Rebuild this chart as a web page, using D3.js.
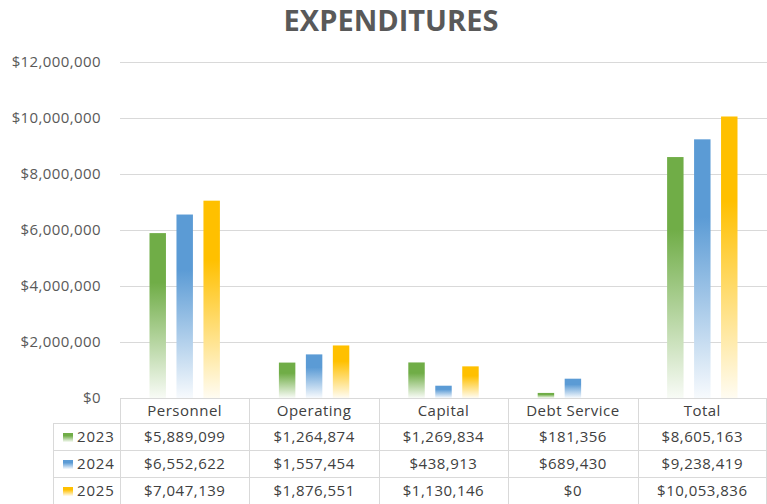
<!DOCTYPE html>
<html>
<head>
<meta charset="utf-8">
<script src="https://cdn.jsdelivr.net/npm/d3@7"></script>
<style>
  body { margin: 0; background: #fff; }
  text { font-family: "Open Sans", sans-serif; }
</style>
</head>
<body>
<div id="chart"></div>
<script>
var categories = ["Personnel", "Operating", "Capital", "Debt Service", "Total"];
var years = ["2023", "2024", "2025"];
var values2023 = [5889099, 1264874, 1269834, 181356, 8605163];
var values2024 = [6552622, 1557454, 438913, 689430, 9238419];
var values2025 = [7047139, 1876551, 1130146, 0, 10053836];
var yTicks = [0, 2000000, 4000000, 6000000, 8000000, 10000000, 12000000];
var colors = ["#70ad47", "#5b9bd5", "#ffc000"];

var series = [values2023, values2024, values2025];

var width = 767, height = 504;
var plotLeft = 120, plotRight = 767, plotTop = 62, plotBottom = 398;
var rowH = 27, headH = 25, legendLeft = 53;

var svg = d3.select("#chart").append("svg")
  .attr("width", width)
  .attr("height", height);

// gradients, one per year, fading to white at the bottom of each bar
var defs = svg.append("defs");
years.forEach(function (yr, i) {
  var g = defs.append("linearGradient")
    .attr("id", "grad" + i)
    .attr("x1", 0).attr("y1", 0).attr("x2", 0).attr("y2", 1);
  g.append("stop").attr("offset", 0).attr("stop-color", colors[i]);
  g.append("stop").attr("offset", 0.3).attr("stop-color", colors[i]);
  g.append("stop").attr("offset", 1).attr("stop-color", d3.interpolateRgb(colors[i], "#fff")(0.95));
});

var x0 = d3.scaleBand().domain(categories).range([plotLeft, plotRight]).padding(0);
var x1 = d3.scaleBand().domain(years)
  .range([29.5, x0.bandwidth() - 29.5])
  .paddingInner(0.39).paddingOuter(0);
var y = d3.scaleLinear().domain([0, 12000000]).range([plotBottom, plotTop]);

svg.append("text")
  .attr("x", 391).attr("y", 31)
  .attr("text-anchor", "middle")
  .attr("font-size", 29).attr("font-weight", "bold")
  .attr("fill", "#595959")
  .text("EXPENDITURES");

// grid + y labels
svg.append("g").selectAll("line")
  .data(yTicks.filter(d => d > 0))
  .enter().append("line")
  .attr("x1", plotLeft).attr("x2", plotRight)
  .attr("y1", d => y(d) + 0.5).attr("y2", d => y(d) + 0.5)
  .attr("stroke", "#d9d9d9").attr("stroke-width", 1);

var fmt = d3.format("$,");
svg.append("g").selectAll("text")
  .data(yTicks)
  .enter().append("text")
  .attr("x", 101).attr("y", d => y(d) + 5)
  .attr("text-anchor", "end")
  .attr("font-size", 15).attr("letter-spacing", 0.4)
  .attr("fill", "#595959")
  .text(d => fmt(d));

// bars
var groups = svg.append("g").selectAll("g")
  .data(categories)
  .enter().append("g")
  .attr("transform", d => "translate(" + x0(d) + ",0)");

groups.selectAll("rect")
  .data((c, ci) => years.map((yr, si) => ({ year: yr, si: si, value: series[si][ci] })))
  .enter().append("rect")
  .attr("x", d => x1(d.year))
  .attr("width", x1.bandwidth())
  .attr("y", d => y(d.value))
  .attr("height", d => plotBottom - y(d.value))
  .attr("fill", d => "url(#grad" + d.si + ")");

// data table
var tbl = svg.append("g");
var lineColor = "#d9d9d9";
var tableBottom = plotBottom + headH + rowH * 3;

tbl.append("line").attr("x1", plotLeft).attr("x2", plotRight)
  .attr("y1", plotBottom + 0.5).attr("y2", plotBottom + 0.5)
  .attr("stroke", lineColor);
[0, 1, 2, 3].forEach(function (r) {
  var yy = plotBottom + headH + r * rowH + 0.5;
  tbl.append("line").attr("x1", legendLeft).attr("x2", plotRight).attr("y1", yy).attr("y2", yy)
    .attr("stroke", lineColor);
});
categories.forEach(function (c) {
  tbl.append("line").attr("x1", Math.round(x0(c)) + 0.5).attr("x2", Math.round(x0(c)) + 0.5)
    .attr("y1", plotBottom).attr("y2", tableBottom).attr("stroke", lineColor);
});
tbl.append("line").attr("x1", plotRight - 0.5).attr("x2", plotRight - 0.5)
  .attr("y1", plotBottom).attr("y2", tableBottom).attr("stroke", lineColor);
tbl.append("line").attr("x1", legendLeft + 0.5).attr("x2", legendLeft + 0.5)
  .attr("y1", plotBottom + headH).attr("y2", tableBottom).attr("stroke", lineColor);

// header
tbl.selectAll("text.head")
  .data(categories)
  .enter().append("text")
  .attr("class", "head")
  .attr("x", d => x0(d) + x0.bandwidth() / 2)
  .attr("y", plotBottom + 18)
  .attr("text-anchor", "middle")
  .attr("font-size", 15).attr("letter-spacing", 0.5)
  .attr("fill", "#404040")
  .text(d => d);

// rows
years.forEach(function (yr, si) {
  var cy = plotBottom + headH + si * rowH;
  tbl.append("rect")
    .attr("x", 63).attr("y", cy + 10).attr("width", 10).attr("height", 9)
    .attr("fill", "url(#grad" + si + ")");
  tbl.append("text")
    .attr("x", 77).attr("y", cy + 19)
    .attr("font-size", 15).attr("letter-spacing", 0.8)
    .attr("fill", "#404040")
    .text(yr);
  tbl.selectAll("text.v" + si)
    .data(series[si])
    .enter().append("text")
    .attr("class", "v" + si)
    .attr("x", (d, i) => x0(categories[i]) + x0.bandwidth() / 2)
    .attr("y", cy + 19)
    .attr("text-anchor", "middle")
    .attr("font-size", 15).attr("letter-spacing", 0.5)
    .attr("fill", "#404040")
    .text(d => fmt(d));
});
</script>
</body>
</html>
